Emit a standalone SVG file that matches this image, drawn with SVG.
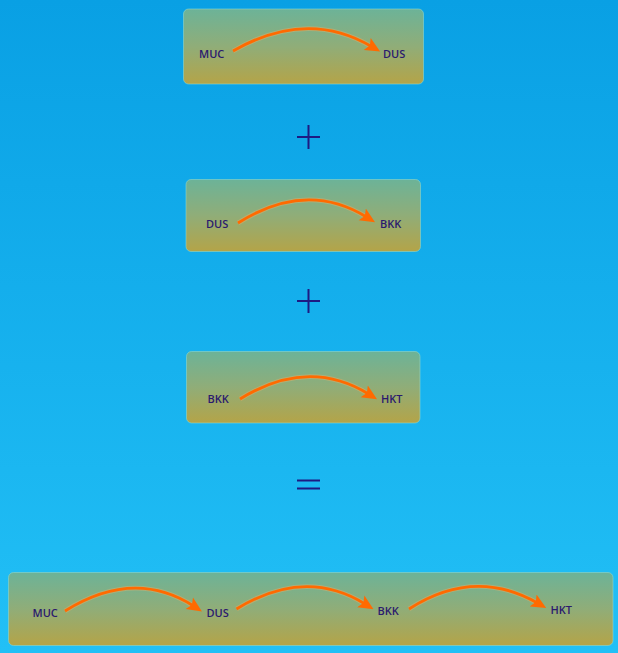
<svg xmlns="http://www.w3.org/2000/svg" width="618" height="653" viewBox="0 0 618 653">
<defs>
<linearGradient id="bg" x1="0" y1="0" x2="0" y2="1">
<stop offset="0" stop-color="#09a0e4"/>
<stop offset="1" stop-color="#22c0f6"/>
</linearGradient>
<linearGradient id="box" x1="0" y1="0" x2="0" y2="1">
<stop offset="0" stop-color="#6cb398"/>
<stop offset="0.5" stop-color="#90ad78"/>
<stop offset="1" stop-color="#b4a448"/>
</linearGradient>
<marker id="ah" viewBox="0 0 12 12" refX="4" refY="6" markerWidth="15" markerHeight="15" markerUnits="userSpaceOnUse" orient="auto">
<path d="M0,0.5 L12,6 L0,11.5 L2.5,6 z" fill="#ff6a00"/>
</marker>
</defs>
<style>
.box{fill:url(#box);stroke:#8fd6c8;stroke-opacity:0.6;stroke-width:1}
.lbl{font-family:"Open Sans","Liberation Sans",sans-serif;font-size:11px;font-weight:600;fill:#2b1a6e}
.arc{fill:none;stroke:#ff6a00;stroke-width:2.8;marker-end:url(#ah)}
.glow{fill:none;stroke:#ffb060;stroke-width:4.8;stroke-opacity:0.35}
.op{stroke:#1e1a82;stroke-width:2;fill:none}
</style>
<rect width="618" height="653" fill="url(#bg)"/>

<g id="node-muc-dus">
<rect class="box" x="183.5" y="9" width="240" height="75" rx="5"/>
<text class="lbl" x="199" y="57.5">MUC</text>
<text class="lbl" x="383" y="57.5">DUS</text>
</g>

<g id="op-plus-1">
<path class="op" d="M297,137H320M308.5,125V149"/>
</g>

<g id="node-dus-bkk">
<rect class="box" x="186" y="179.5" width="234.5" height="72" rx="5"/>
<text class="lbl" x="206" y="227.5">DUS</text>
<text class="lbl" x="380" y="227.5">BKK</text>
</g>

<g id="op-plus-2">
<path class="op" d="M297,301H320M308.5,289V313"/>
</g>

<g id="node-bkk-hkt">
<rect class="box" x="186.5" y="351.5" width="233.5" height="71.5" rx="5"/>
<text class="lbl" x="207.5" y="403">BKK</text>
<text class="lbl" x="381" y="403">HKT</text>
</g>

<g id="op-equals">
<path class="op" d="M297,480.5H320M297,488.5H320"/>
</g>

<g id="node-result">
<rect class="box" x="8.5" y="572.5" width="604.5" height="73" rx="5"/>
<text class="lbl" x="32.5" y="617">MUC</text>
<text class="lbl" x="206.5" y="617">DUS</text>
<text class="lbl" x="377.5" y="614.5">BKK</text>
<text class="lbl" x="550.5" y="613.5">HKT</text>
</g>

<g id="connectors">
<path class="glow" d="M233,51 Q307,8.5 371.5,46.5"/>
<path class="arc" d="M233,51 Q307,8.5 371.5,46.5"/>
<path class="glow" d="M238,223 Q306,180 366.5,217"/>
<path class="arc" d="M238,223 Q306,180 366.5,217"/>
<path class="glow" d="M240,399 Q308,357 368.5,394"/>
<path class="arc" d="M240,399 Q308,357 368.5,394"/>
<path class="glow" d="M65,611 Q134,568 193.5,606"/>
<path class="arc" d="M65,611 Q134,568 193.5,606"/>
<path class="glow" d="M236.5,609 Q305,567 365,604"/>
<path class="arc" d="M236.5,609 Q305,567 365,604"/>
<path class="glow" d="M409,609 Q474,567 537.5,603"/>
<path class="arc" d="M409,609 Q474,567 537.5,603"/>
</g>
</svg>
